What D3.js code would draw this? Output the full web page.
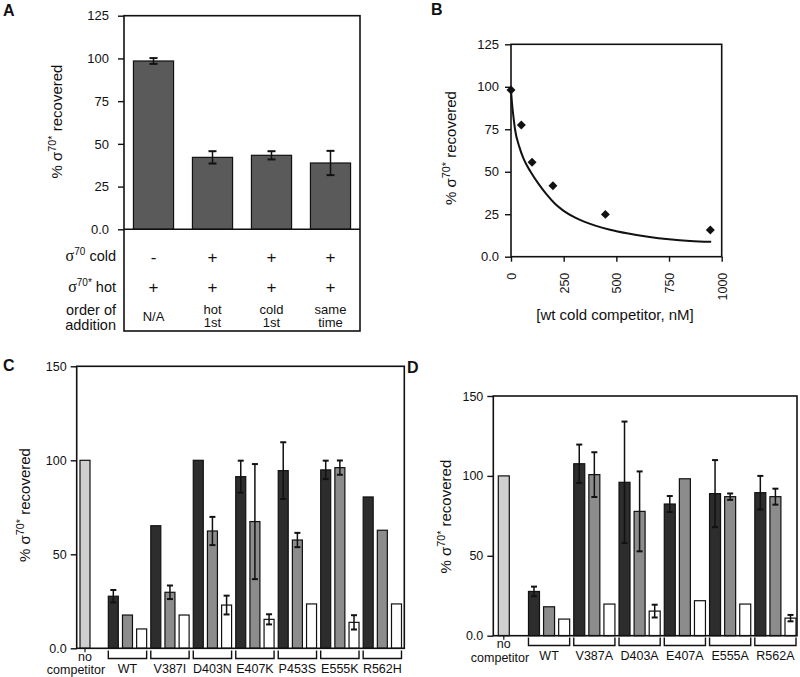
<!DOCTYPE html>
<html><head><meta charset="utf-8">
<script src="https://cdn.jsdelivr.net/npm/d3@7"></script>
<style>body{margin:0;background:#fff}svg{display:block}</style>
</head><body>
<svg id="fig" width="800" height="677"></svg>
<script>
// ---------- Panel A data ----------
const aCategories = ["N/A", "hot 1st", "cold 1st", "same time"];
const aValues = [98.5, 42.1, 43.3, 38.8];
const aErrors = [1.7, 3.6, 2.4, 7.1];
const aColdRow = ["-", "+", "+", "+"];
const aHotRow = ["+", "+", "+", "+"];
const aOrderLine1 = ["N/A", "hot", "cold", "same"];
const aOrderLine2 = ["", "1st", "1st", "time"];
const aYTicks = [0, 25, 50, 75, 100, 125];
const aYTickLabels = ["0.0", "25", "50", "75", "100", "125"];

// ---------- Panel B data ----------
const bConc = [0, 49, 100, 199, 448, 946];
const bRecovered = [98.1, 77.5, 55.6, 41.8, 24.9, 15.7];
const bFitConc = [0, 5, 10, 19, 40, 60, 93, 130, 170, 210, 250, 300, 350, 400, 470, 550, 650, 750, 850, 950];
const bFitValue = [98, 90, 84, 75, 64.5, 57.5, 50, 43, 36.5, 31, 27, 23.3, 20.5, 18.3, 15.9, 13.8, 11.8, 10.3, 9.3, 8.8];
const bYTicks = [0, 25, 50, 75, 100, 125];
const bYTickLabels = ["0.0", "25", "50", "75", "100", "125"];
const bXTicks = [0, 250, 500, 750, 1000];

// ---------- Panel C data ----------
const cGroups = ["WT", "V387I", "D403N", "E407K", "P453S", "E555K", "R562H"];
const cNoCompetitor = 100;
const cDark = [27.7, 65.2, 100, 91.3, 94.5, 94.9, 80.5];
const cDarkErr = [3.3, null, null, 8.5, 15.1, 4.9, null];
const cGray = [17.7, 29.8, 62.4, 67.4, 57.6, 96.1, 62.8];
const cGrayErr = [null, 3.6, 7.5, 30.6, 3.8, 3.8, null];
const cWhite = [10.3, 17.7, 23.0, 15.4, 23.6, 13.8, 23.6];
const cWhiteErr = [null, null, 5.0, 2.7, null, 3.8, null];

// ---------- Panel D data ----------
const dGroups = ["WT", "V387A", "D403A", "E407A", "E555A", "R562A"];
const dNoCompetitor = 100;
const dDark = [27.7, 107.6, 96.0, 82.4, 88.9, 89.5];
const dDarkErr = [3.0, 12.0, 38.0, 5.0, 21.0, 10.5];
const dGray = [18.1, 100.8, 77.8, 98.2, 87.0, 87.0];
const dGrayErr = [null, 14.0, 25.0, null, 2.0, 5.0];
const dWhite = [10.4, 19.8, 15.4, 21.9, 19.8, 11.0];
const dWhiteErr = [null, null, 4.0, null, null, 2.0];

const cdYTicks = [0, 50, 100, 150];
const cdYTickLabels = ["0.0", "50", "100", "150"];

// ---------- helpers ----------
const FONT = "'Liberation Sans', Arial, Helvetica, sans-serif";
const svg = d3.select("#fig").attr("font-family", FONT);
const COL_A = "#5a5a5a", COL_DARK = "#2d2d2d", COL_GRAY = "#8c8c8c", COL_LIGHT = "#cfcfcf", COL_WHITE = "#ffffff";

function yLabel(x, y, size) {
  const t = svg.append("text")
    .attr("transform", `translate(${x},${y}) rotate(-90)`)
    .attr("text-anchor", "middle").attr("font-size", size).attr("fill", "#111");
  t.append("tspan").text("% σ");
  t.append("tspan").attr("dy", -6).attr("font-size", size * 0.72).text("70*");
  t.append("tspan").attr("dy", 6).text(" recovered");
}
function panelLabel(txt, x, y) {
  svg.append("text").attr("x", x).attr("y", y).attr("font-weight", "bold")
    .attr("font-size", 16).attr("fill", "#111").text(txt);
}
function styleAxis(g, size) {
  g.select(".domain").remove();
  g.selectAll(".tick line").attr("stroke", "#111").attr("stroke-width", 1.4);
  g.selectAll(".tick text").attr("font-family", FONT).attr("font-size", size).attr("fill", "#111");
}
function errBar(g, cx, yS, v, e, cap) {
  const top = yS(v + e), bot = yS(v - e);
  g.append("line").attr("x1", cx).attr("x2", cx).attr("y1", top).attr("y2", bot)
    .attr("stroke", "#111").attr("stroke-width", 1.5);
  [top, bot].forEach(yy => g.append("line").attr("x1", cx - cap / 2).attr("x2", cx + cap / 2)
    .attr("y1", yy).attr("y2", yy).attr("stroke", "#111").attr("stroke-width", 2));
}

// ================= Panel A =================
(function () {
  const L = 124, R = 360, T = 15.7, B0 = 229.3, BOT = 331;
  const x = d3.scaleBand().domain(aCategories).range([L, R]).paddingInner(0.32).paddingOuter(0.16);
  const y = d3.scaleLinear().domain([0, 125]).range([B0, T]);
  const g = svg.append("g");
  g.selectAll("rect.bar").data(aValues).join("rect").attr("class", "bar")
    .attr("x", (d, i) => x(aCategories[i])).attr("width", x.bandwidth())
    .attr("y", d => y(d)).attr("height", d => B0 - y(d))
    .attr("fill", COL_A).attr("stroke", "#111").attr("stroke-width", 1.2);
  aValues.forEach((v, i) => errBar(g, x(aCategories[i]) + x.bandwidth() / 2, y, v, aErrors[i], 8));
  const ax = g.append("g").attr("transform", `translate(${L},0)`)
    .call(d3.axisLeft(y).tickValues(aYTicks).tickFormat((d, i) => aYTickLabels[i]).tickSize(6).tickPadding(9));
  styleAxis(ax, 13);
  g.append("rect").attr("x", L).attr("y", T).attr("width", R - L).attr("height", BOT - T)
    .attr("fill", "none").attr("stroke", "#111").attr("stroke-width", 1.6);
  g.append("line").attr("x1", L).attr("x2", R).attr("y1", B0).attr("y2", B0)
    .attr("stroke", "#111").attr("stroke-width", 1.6);
  // table
  const cx = i => x(aCategories[i]) + x.bandwidth() / 2;
  const rowLab = (yy, main, sup, rest) => {
    const t = g.append("text").attr("x", 116).attr("y", yy).attr("text-anchor", "end")
      .attr("font-size", 14.5).attr("fill", "#111");
    t.append("tspan").attr("font-family", "'Liberation Serif', serif").attr("font-size", 16).text(main);
    t.append("tspan").attr("dy", -6).attr("font-size", 10).text(sup);
    t.append("tspan").attr("dy", 6).text(rest);
  };
  rowLab(261, "σ", "70", " cold");
  rowLab(291.5, "σ", "70*", " hot");
  g.append("text").attr("x", 116).attr("y", 315).attr("text-anchor", "end").attr("font-size", 14.5).attr("fill", "#111").text("order of");
  g.append("text").attr("x", 116).attr("y", 330).attr("text-anchor", "end").attr("font-size", 14.5).attr("fill", "#111").text("addition");
  aColdRow.forEach((s, i) => g.append("text").attr("x", cx(i)).attr("y", 256.7).attr("dy", "0.35em")
    .attr("text-anchor", "middle").attr("font-size", 17).attr("fill", "#111").text(s));
  aHotRow.forEach((s, i) => g.append("text").attr("x", cx(i)).attr("y", 286.7).attr("dy", "0.35em")
    .attr("text-anchor", "middle").attr("font-size", 17).attr("fill", "#111").text(s));
  aOrderLine1.forEach((s, i) => {
    const single = aOrderLine2[i] === "";
    g.append("text").attr("x", cx(i)).attr("y", single ? 321 : 313.5).attr("text-anchor", "middle")
      .attr("font-size", 13).attr("fill", "#111").text(s);
    if (!single) g.append("text").attr("x", cx(i)).attr("y", 327).attr("text-anchor", "middle")
      .attr("font-size", 13).attr("fill", "#111").text(aOrderLine2[i]);
  });
  yLabel(62, 121.5, 15);
  panelLabel("A", 3, 16);
})();

// ================= Panel B =================
(function () {
  const L = 511, R = 721.7, T = 44.3, B0 = 256.7;
  const x = d3.scaleLinear().domain([0, 1000]).range([L, R]);
  const y = d3.scaleLinear().domain([0, 125]).range([B0, T]);
  const g = svg.append("g");
  const line = d3.line().x((d, i) => x(bFitConc[i])).y(d => y(d)).curve(d3.curveMonotoneX);
  g.append("path").attr("d", line(bFitValue)).attr("fill", "none").attr("stroke", "#111").attr("stroke-width", 2);
  const sym = d3.symbol().type(d3.symbolSquare).size(40);
  g.selectAll("path.pt").data(bRecovered).join("path").attr("class", "pt")
    .attr("transform", (d, i) => `translate(${x(bConc[i])},${y(d)}) rotate(45)`)
    .attr("d", sym).attr("fill", "#111");
  const ay = g.append("g").attr("transform", `translate(${L},0)`)
    .call(d3.axisLeft(y).tickValues(bYTicks).tickFormat((d, i) => bYTickLabels[i]).tickSize(6).tickPadding(6));
  styleAxis(ay, 13);
  const axb = g.append("g").attr("transform", `translate(0,${B0})`)
    .call(d3.axisBottom(x).tickValues(bXTicks).tickFormat(d3.format("d")).tickSize(5));
  styleAxis(axb, 12.5);
  axb.selectAll(".tick text").attr("transform", "rotate(-90)").attr("x", -16).attr("y", 0)
    .attr("dy", "0.35em").attr("text-anchor", "end");
  g.append("rect").attr("x", L).attr("y", T).attr("width", R - L).attr("height", B0 - T)
    .attr("fill", "none").attr("stroke", "#111").attr("stroke-width", 1.6);
  g.append("text").attr("x", 615).attr("y", 320).attr("text-anchor", "middle").attr("font-size", 15)
    .attr("fill", "#111").text("[wt cold competitor, nM]");
  yLabel(456, 148, 15);
  panelLabel("B", 431, 15);
})();

// ================= Panels C & D =================
function groupedPanel(cfg) {
  const { L, R, T, B0, slot0, slotLast, nSlots, bw, groups, noComp, dark, darkErr, gray, grayErr, white, whiteErr,
    brTop, brBot, labY, noY1, noY2, compX } = cfg;
  const xs = d3.scaleLinear().domain([0, nSlots - 1]).range([slot0, slotLast]);
  const y = d3.scaleLinear().domain([0, 150]).range([B0, T]);
  const g = svg.append("g");
  const bars = [];
  bars.push({ s: 0, v: noComp, e: null, fill: COL_LIGHT });
  groups.forEach((grp, i) => {
    bars.push({ s: 2 + 3 * i, v: dark[i], e: darkErr[i], fill: COL_DARK });
    bars.push({ s: 3 + 3 * i, v: gray[i], e: grayErr[i], fill: COL_GRAY });
    bars.push({ s: 4 + 3 * i, v: white[i], e: whiteErr[i], fill: COL_WHITE });
  });
  g.selectAll("rect.bar").data(bars).join("rect").attr("class", "bar")
    .attr("x", d => xs(d.s)).attr("width", bw)
    .attr("y", d => y(d.v)).attr("height", d => B0 - y(d.v))
    .attr("fill", d => d.fill).attr("stroke", "#111").attr("stroke-width", 1.2);
  bars.forEach(d => { if (d.e != null) errBar(g, xs(d.s) + bw / 2, y, d.v, d.e, 6); });
  const ay = g.append("g").attr("transform", `translate(${L},0)`)
    .call(d3.axisLeft(y).tickValues(cdYTicks).tickFormat((d, i) => cdYTickLabels[i]).tickSize(6).tickPadding(4));
  styleAxis(ay, 12.5);
  g.append("rect").attr("x", L).attr("y", T).attr("width", R - L).attr("height", B0 - T)
    .attr("fill", "none").attr("stroke", "#111").attr("stroke-width", 1.6);
  // brackets + labels
  groups.forEach((grp, i) => {
    const x1 = xs(2 + 3 * i), x2 = xs(4 + 3 * i) + bw;
    g.append("path").attr("d", `M${x1},${brTop}V${brBot}H${x2}V${brTop}`)
      .attr("fill", "none").attr("stroke", "#111").attr("stroke-width", 1.4);
    g.append("text").attr("x", (x1 + x2) / 2).attr("y", labY).attr("text-anchor", "middle")
      .attr("font-size", 12.5).attr("fill", "#111").text(grp);
  });
  const nx = xs(0) + bw / 2;
  g.append("line").attr("x1", nx).attr("x2", nx).attr("y1", B0).attr("y2", B0 + 4).attr("stroke", "#111").attr("stroke-width", 1.2);
  g.append("text").attr("x", nx).attr("y", noY1).attr("text-anchor", "middle").attr("font-size", 12.5).attr("fill", "#111").text("no");
  g.append("text").attr("x", compX).attr("y", noY2).attr("text-anchor", "middle").attr("font-size", 12.5).attr("fill", "#111").text("competitor");
}

groupedPanel({
  L: 76.7, R: 404.3, T: 366.3, B0: 648.3, slot0: 80, slotLast: 391.5, nSlots: 23, bw: 10,
  groups: cGroups, noComp: cNoCompetitor, dark: cDark, darkErr: cDarkErr, gray: cGray, grayErr: cGrayErr,
  white: cWhite, whiteErr: cWhiteErr, brTop: 650.5, brBot: 658.5, labY: 672.5, noY1: 661, noY2: 673.5, compX: 76
});
yLabel(29.5, 505, 15);
panelLabel("C", 3, 371);

groupedPanel({
  L: 493.3, R: 797, T: 396, B0: 635.7, slot0: 498.3, slotLast: 785, nSlots: 20, bw: 11,
  groups: dGroups, noComp: dNoCompetitor, dark: dDark, darkErr: dDarkErr, gray: dGray, grayErr: dGrayErr,
  white: dWhite, whiteErr: dWhiteErr, brTop: 637.5, brBot: 645.5, labY: 660, noY1: 647.5, noY2: 661.5, compX: 500
});
yLabel(451, 516.7, 15);
panelLabel("D", 407, 373);
</script>
</body></html>
